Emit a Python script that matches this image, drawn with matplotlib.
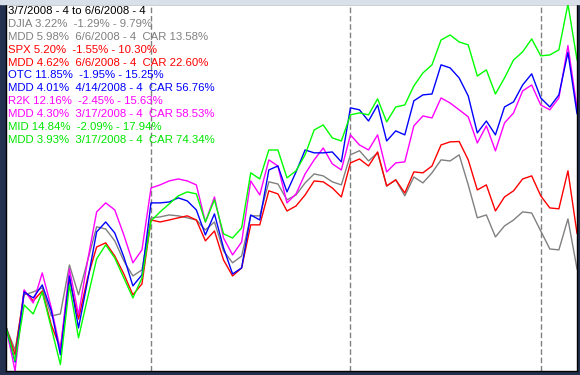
import matplotlib
matplotlib.use("Agg")
import matplotlib.pyplot as plt
from matplotlib.patches import Rectangle

# % change since 3/7/2008, one value per trading day up to 6/6/2008
djia = [0.00, -1.29, 1.78, 1.94, 2.17, 0.61, 0.72, 3.44, 1.78, 3.67,
        5.56, 5.44, 4.78, 3.67, 2.83, 3.17, 6.06, 6.11, 6.22, 6.17,
        6.06, 5.94, 5.39, 5.83, 4.22, 3.56, 3.94, 6.17, 6.17, 8.06,
        7.94, 7.06, 7.33, 8.00, 8.50, 8.39, 8.06, 7.89, 9.56, 9.79,
        9.22, 9.67, 7.83, 8.17, 7.28, 8.33, 8.00, 8.56, 9.28, 9.22,
        9.56, 7.89, 6.06, 6.22, 5.00, 5.61, 5.94, 6.39, 6.33, 5.33,
        4.33, 4.28, 6.00, 3.22]
spx = [0.00, -1.55, 2.00, 1.44, 2.00, 0.11, -1.20, 2.67, 0.44, 2.72,
       4.44, 4.67, 3.94, 2.94, 1.78, 2.39, 5.94, 5.83, 5.94, 6.06,
       6.17, 5.94, 4.78, 5.33, 3.72, 2.83, 3.28, 5.67, 5.67, 7.56,
       7.39, 6.44, 6.72, 7.33, 8.11, 8.06, 7.72, 7.22, 9.11, 9.33,
       8.94, 9.72, 7.83, 8.17, 7.44, 8.61, 8.56, 8.94, 10.11, 10.28,
       10.30, 9.28, 7.61, 7.89, 6.44, 7.22, 7.56, 8.22, 8.39, 7.28,
       6.61, 6.56, 8.67, 5.20]
otc = [0.00, -1.95, 1.94, 1.61, 2.33, 0.89, -1.55, 2.83, -0.06, 2.56,
       5.28, 5.83, 5.22, 3.89, 2.28, 2.89, 6.89, 6.89, 6.94, 7.17,
       7.00, 6.50, 5.11, 6.28, 4.39, 2.94, 3.28, 6.22, 5.94, 8.72,
       8.94, 7.50, 8.61, 9.83, 9.67, 9.67, 9.72, 9.17, 12.17, 12.06,
       11.44, 12.33, 10.33, 10.89, 10.67, 12.56, 12.89, 12.94, 14.56, 14.39,
       13.83, 12.83, 10.78, 11.44, 10.67, 12.22, 12.50, 13.44, 14.06, 12.72,
       12.22, 12.89, 15.25, 11.85]
r2k = [0.00, -2.45, 2.06, 1.33, 3.00, 1.06, -1.28, 3.22, 0.67, 3.67,
       6.39, 6.89, 6.50, 5.11, 3.56, 4.28, 7.72, 7.89, 8.11, 8.22,
       8.11, 7.89, 5.83, 7.22, 4.94, 4.00, 4.72, 8.11, 7.33, 9.28,
       8.94, 6.89, 7.39, 8.50, 9.28, 9.94, 9.06, 8.72, 10.67, 10.11,
       9.83, 10.67, 8.61, 9.11, 9.17, 11.17, 11.72, 11.61, 12.72, 12.44,
       12.06, 11.67, 10.22, 11.17, 9.78, 11.33, 11.89, 13.11, 13.44, 12.33,
       12.06, 12.72, 15.63, 12.16]
mid = [0.00, -1.89, 1.22, 0.72, 1.94, -0.06, -2.09, 2.33, -0.61, 1.61,
       3.78, 4.56, 3.83, 2.72, 1.61, 2.72, 5.89, 6.39, 6.83, 7.28,
       7.50, 7.39, 5.83, 7.06, 5.17, 4.94, 5.50, 8.56, 8.22, 9.83,
       9.83, 8.28, 8.67, 9.56, 10.94, 11.22, 10.50, 10.33, 11.78, 11.89,
       11.78, 12.67, 11.39, 12.22, 12.33, 13.39, 14.11, 14.56, 15.94, 16.22,
       15.83, 15.67, 13.94, 14.28, 12.94, 13.83, 14.83, 15.28, 16.00, 15.06,
       15.11, 15.39, 17.94, 14.84]

month_starts = [16, 38, 59]  # 4/1, 5/1, 6/2

legend_lines = [
    "3/7/2008 - 4 to 6/6/2008 - 4",
    "DJIA 3.22%  -1.29% - 9.79%",
    "MDD 5.98%  6/6/2008 - 4  CAR 13.58%",
    "SPX 5.20%  -1.55% - 10.30%",
    "MDD 4.62%  6/6/2008 - 4  CAR 22.60%",
    "OTC 11.85%  -1.95% - 15.25%",
    "MDD 4.01%  4/14/2008 - 4  CAR 56.76%",
    "R2K 12.16%  -2.45% - 15.63%",
    "MDD 4.30%  3/17/2008 - 4  CAR 58.53%",
    "MID 14.84%  -2.09% - 17.94%",
    "MDD 3.93%  3/17/2008 - 4  CAR 74.34%",
]
legend_colors = ["black", "#808080", "#808080", "red", "red", "blue", "blue",
                 "magenta", "magenta", "#00e600", "#00e600"]

W, H = 580, 375
fig = plt.figure(figsize=(W / 100, H / 100), dpi=100, facecolor="#23314f")
fig.patches.append(Rectangle((0, 1 - 4 / H), 1, 4 / H, transform=fig.transFigure,
                             color="#d9e0ea", zorder=0))
ax = fig.add_axes([6 / W, 4 / H, 571 / W, 367 / H])
ax.set_facecolor("white")

x = list(range(len(djia)))
for m in month_starts:
    ax.axvline(m, color="#808080", lw=1, linestyle=(0, (4, 2)))

ax.plot(x, djia, color="#808080", lw=1)
ax.plot(x, spx, color="red", lw=1)
ax.plot(x, r2k, color="magenta", lw=1)
ax.plot(x, otc, color="blue", lw=1)
ax.plot(x, mid, color="#00ff00", lw=1)

ax.set_xlim(0, len(djia) - 1)
ax.set_ylim(min(r2k), max(mid))
ax.set_xticks([])
ax.set_yticks([])
for s in ax.spines.values():
    s.set_color("black")
    s.set_linewidth(1)

for k, (txt, c) in enumerate(zip(legend_lines, legend_colors)):
    fig.text(8 / W, 1 - (11 + k * 12.9) / H, txt, color=c, fontsize=8.2,
             family="Liberation Sans", va="center", ha="left")

fig.savefig("out.png", dpi=100, facecolor=fig.get_facecolor())
